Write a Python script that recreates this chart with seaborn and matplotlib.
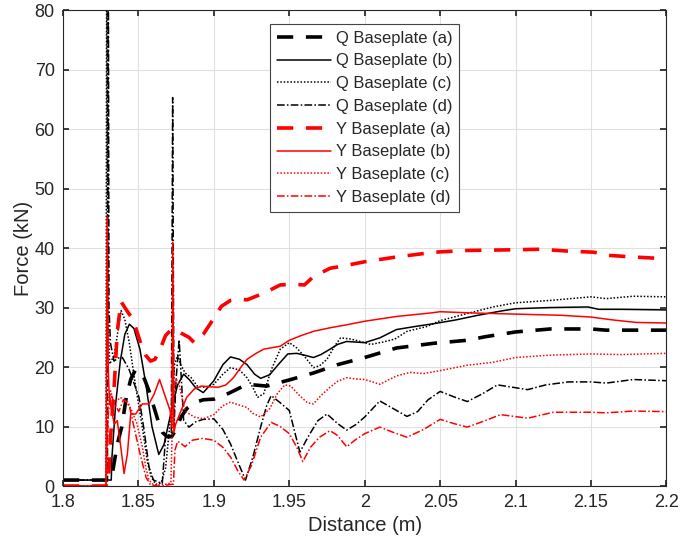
import pandas as pd
import seaborn as sns
import matplotlib.pyplot as plt

# --------------------------------------------------
# DATA
# --------------------------------------------------
qa_x = [1.800, 1.832, 1.834, 1.836, 1.839, 1.842, 1.845, 1.848, 1.851, 1.854,
        1.857, 1.860, 1.863, 1.866, 1.869, 1.872, 1.875, 1.878, 1.882, 1.887,
        1.893, 1.900, 1.910, 1.922, 1.935, 1.951, 1.966, 1.982, 2.000, 2.021,
        2.046, 2.068, 2.080, 2.100, 2.123, 2.150, 2.160, 2.200]
qa_y = [1.0, 1.0, 4, 7, 10, 15, 18, 19.5, 19.3, 18,
        16, 13.5, 11, 9, 8.3, 8.3, 9.5, 11.5, 13, 14,
        14.5, 14.6, 15.6, 17.1, 16.8, 17.9, 19.0, 20.4, 21.6, 23.2,
        24.0, 24.5, 25.1, 25.9, 26.4, 26.4, 26.2, 26.2]

qb_x = [1.800, 1.832, 1.8325, 1.835, 1.838, 1.841, 1.844, 1.847, 1.851, 1.855,
        1.859, 1.8635, 1.867, 1.870, 1.873, 1.876, 1.880, 1.884, 1.888, 1.893,
        1.900, 1.906, 1.911, 1.917, 1.922, 1.927, 1.931, 1.937, 1.943, 1.949,
        1.955, 1.960, 1.966, 1.971, 1.977, 1.982, 1.988, 1.994, 2.000, 2.010,
        2.021, 2.033, 2.046, 2.060, 2.075, 2.090, 2.100, 2.123, 2.148, 2.155,
        2.170, 2.200]
qb_y = [1.0, 1.0, 5, 14, 21, 25.5, 27.2, 26.5, 23, 17,
        10, 5.3, 7, 10.5, 14, 17, 18.8, 17.8, 16.5, 15.7,
        17.7, 20.4, 21.7, 21.3, 20.4, 18.8, 18.1, 18.7, 20.5, 22.2,
        22.3, 22.0, 21.6, 22.1, 23.0, 23.8, 24.3, 24.2, 24.1, 24.9,
        26.3, 26.8, 27.3, 27.9, 28.7, 29.4, 29.8, 30.0, 30.1, 29.7,
        29.7, 29.6]

qc_x = [1.800, 1.8285, 1.8290, 1.8296, 1.831, 1.834, 1.8385, 1.841, 1.844, 1.848,
        1.8525, 1.856, 1.8585, 1.8615, 1.865, 1.868, 1.8715, 1.874, 1.876, 1.878,
        1.881, 1.885, 1.889, 1.894, 1.900, 1.906, 1.911, 1.917, 1.922, 1.926,
        1.929, 1.933, 1.938, 1.944, 1.950, 1.955, 1.961, 1.966, 1.970, 1.975,
        1.980, 1.984, 1.991, 1.997, 2.004, 2.012, 2.020, 2.028, 2.041, 2.050,
        2.068, 2.085, 2.100, 2.123, 2.150, 2.160, 2.178, 2.200]
qc_y = [1.0, 1.0, 100, 30, 20.5, 22, 29.5, 28, 24, 17,
        10, 4, 1.5, 0.3, 0.5, 3, 12, 20.5, 22, 20.4,
        19, 18.2, 16.8, 16.6, 17.1, 18.8, 19.9, 19.5, 18.2, 16.5,
        14.9, 15.5, 19.5, 23, 24.1, 23.2, 21.5, 19.9, 20.2, 21.3,
        23.5, 24.9, 24.7, 24.3, 23.8, 24.2, 24.7, 26, 26.8, 27.8,
        29, 30.1, 30.8, 31.2, 31.8, 31.5, 31.9, 31.8]

qd_x = [1.800, 1.8295, 1.8300, 1.8305, 1.8315, 1.8338, 1.8365, 1.8394, 1.8438, 1.8475,
        1.8504, 1.854, 1.857, 1.860, 1.8658, 1.868, 1.8718, 1.8727, 1.8736, 1.875,
        1.877, 1.880, 1.8835, 1.888, 1.893, 1.900, 1.906, 1.911, 1.916, 1.921,
        1.926, 1.931, 1.935, 1.938, 1.944, 1.950, 1.957, 1.963, 1.969, 1.975,
        1.982, 1.988, 1.994, 2.000, 2.010, 2.019, 2.028, 2.035, 2.042, 2.050,
        2.059, 2.068, 2.078, 2.088, 2.098, 2.108, 2.120, 2.135, 2.150, 2.160,
        2.178, 2.200]
qd_y = [1.0, 1.0, 100, 30, 24, 21, 21.5, 21.6, 19.6, 17,
        14.9, 9, 3.2, 1.0, 0.4, 8.2, 8.5, 65.3, 10, 18,
        24.6, 11, 9.9, 10.8, 11.2, 11.3, 9.5, 7.1, 4, 1.0,
        5, 9.9, 13.5, 15.2, 14, 12.7, 5.7, 8.5, 11.0, 12.1,
        10.5, 9.4, 10.3, 11.6, 14.3, 13.0, 11.7, 12.5, 14.5, 15.9,
        15.0, 14.2, 15.5, 17.0, 16.6, 16.2, 17.0, 17.5, 17.5, 17.3,
        17.9, 17.7]

ya_x = [1.800, 1.830, 1.8315, 1.834, 1.836, 1.8385, 1.841, 1.845, 1.8482, 1.8515,
        1.8548, 1.858, 1.861, 1.8647, 1.868, 1.8714, 1.875, 1.879, 1.8835, 1.887,
        1.893, 1.900, 1.905, 1.911, 1.917, 1.922, 1.933, 1.944, 1.953, 1.960,
        1.966, 1.977, 1.988, 2.000, 2.021, 2.046, 2.068, 2.096, 2.116, 2.134,
        2.152, 2.160, 2.178, 2.200]
ya_y = [0, 0, 8, 17, 26, 31, 30, 28.5, 26.6, 24,
        22, 21, 21.3, 23.2, 25.3, 26.2, 26.3, 25.6, 25, 24.1,
        25.5, 28.2, 30.2, 31.2, 31.4, 31.3, 32.4, 33.8, 33.9, 33.8,
        35.2, 36.6, 37.1, 37.7, 38.5, 39.3, 39.6, 39.7, 39.8, 39.5,
        39.3, 38.8, 38.5, 38.2]

yb_x = [1.800, 1.8285, 1.8293, 1.8300, 1.8305, 1.832, 1.834, 1.836, 1.8383, 1.8405,
        1.8427, 1.8449, 1.8482, 1.8526, 1.857, 1.8605, 1.8640, 1.868, 1.871, 1.8722,
        1.8728, 1.8735, 1.8747, 1.878, 1.882, 1.887, 1.892, 1.896, 1.903, 1.908,
        1.913, 1.918, 1.922, 1.928, 1.933, 1.944, 1.950, 1.958, 1.966, 1.977,
        1.988, 2.000, 2.021, 2.044, 2.050, 2.070, 2.100, 2.130, 2.150, 2.165,
        2.180, 2.200]
yb_y = [0, 0, 45.3, 20, 16, 13, 10.4, 11, 6.6, 2.1,
        5.4, 12.1, 12.1, 13.8, 13.8, 15.5, 17.9, 14.9, 12.7, 10,
        41, 9, 10.4, 12.5, 14.9, 16.3, 16.8, 16.7, 16.6, 17.0,
        18.2, 20, 21.3, 22.3, 23, 23.5, 24.5, 25.3, 26.0, 26.6,
        27.1, 27.7, 28.5, 29.1, 29.3, 29.1, 28.9, 28.7, 28.4, 27.9,
        27.5, 27.4]

yc_x = [1.800, 1.8285, 1.830, 1.8316, 1.834, 1.838, 1.8416, 1.845, 1.849, 1.8526,
        1.855, 1.857, 1.860, 1.864, 1.868, 1.8715, 1.8730, 1.875, 1.877, 1.8795,
        1.8813, 1.887, 1.893, 1.900, 1.906, 1.911, 1.917, 1.922, 1.926, 1.931,
        1.937, 1.942, 1.947, 1.951, 1.956, 1.962, 1.966, 1.971, 1.977, 1.982,
        1.988, 1.994, 2.000, 2.010, 2.021, 2.030, 2.039, 2.050, 2.068, 2.085,
        2.100, 2.123, 2.150, 2.170, 2.200]
yc_y = [0, 0, 15, 16, 13.8, 14.9, 14.3, 13, 10.5, 6.6,
        3, 1, 0.2, 0.2, 0.3, 0.5, 15, 18, 17.1, 14,
        12.5, 11.6, 11.3, 12, 13.5, 14.1, 13.6, 13.2, 12.2, 11.6,
        13, 15.5, 17, 16.8, 15.4, 14, 13.8, 15.2, 16.6, 17.6,
        18.2, 18.0, 17.9, 17.1, 18.5, 19.1, 18.9, 19.4, 20.3, 20.8,
        21.6, 22.0, 22.2, 22.1, 22.3]

yd_x = [1.800, 1.8285, 1.830, 1.8315, 1.834, 1.837, 1.840, 1.8435, 1.847, 1.851,
        1.855, 1.858, 1.862, 1.866, 1.870, 1.8722, 1.8732, 1.8742, 1.876, 1.878,
        1.881, 1.8857, 1.8925, 1.900, 1.906, 1.911, 1.916, 1.920, 1.925, 1.931,
        1.938, 1.944, 1.950, 1.955, 1.959, 1.964, 1.970, 1.977, 1.982, 1.988,
        1.994, 2.000, 2.010, 2.019, 2.028, 2.039, 2.050, 2.059, 2.068, 2.080,
        2.090, 2.108, 2.125, 2.150, 2.160, 2.178, 2.200]
yd_y = [0, 0, 12, 15.5, 14, 12.5, 14.5, 14, 10, 5.5,
        1.5, 0.2, 0, 0, 0.2, 0.3, 0.3, 6, 7.5, 7.2,
        6.6, 7.7, 8.0, 7.7, 6.5, 4.9, 2.5, 1.0, 3.5, 8.2,
        10.7, 10, 8.8, 6.5, 4.1, 6.5, 8.2, 9.3, 8.5, 6.6,
        7.8, 8.8, 9.9, 9.0, 8.2, 9.5, 11.2, 10.5, 9.9, 11.0,
        12.0, 11.4, 12.4, 12.4, 12.3, 12.6, 12.5]

labels = ["Q Baseplate (a)", "Q Baseplate (b)", "Q Baseplate (c)", "Q Baseplate (d)",
          "Y Baseplate (a)", "Y Baseplate (b)", "Y Baseplate (c)", "Y Baseplate (d)"]
xs = [qa_x, qb_x, qc_x, qd_x, ya_x, yb_x, yc_x, yd_x]
ys = [qa_y, qb_y, qc_y, qd_y, ya_y, yb_y, yc_y, yd_y]

# --------------------------------------------------
# STYLE
# --------------------------------------------------
sns.set_theme(style="ticks")
plt.rcParams["font.family"] = ["Liberation Sans", "DejaVu Sans"]

dash_a = (0, (4.5, 3.5))
dash_c = (0, (1, 1.2))
dash_d = (0, (5, 1.5, 1, 1.5))
styles = [
    ("black", dash_a, 2.6), ("black", "-", 1.1), ("black", dash_c, 1.1), ("black", dash_d, 1.1),
    ("red", dash_a, 2.6), ("red", "-", 1.1), ("red", dash_c, 1.1), ("red", dash_d, 1.1),
]

fig = plt.figure(figsize=(6.8, 5.47), dpi=100)
ax = fig.add_axes([0.0926, 0.1115, 0.8875, 0.870])

for x, y, lab, (col, ls, lw) in zip(xs, ys, labels, styles):
    d = pd.DataFrame({"Distance": x, "Force": y})
    sns.lineplot(data=d, x="Distance", y="Force", ax=ax, color=col, linestyle=ls,
                 linewidth=lw, label=lab, sort=False, estimator=None)

ax.set_xlim(1.8, 2.2)
ax.set_ylim(0, 80)
ax.set_xticks([1.8, 1.85, 1.9, 1.95, 2.0, 2.05, 2.1, 2.15, 2.2])
ax.set_xticklabels(["1.8", "1.85", "1.9", "1.95", "2", "2.05", "2.1", "2.15", "2.2"])
ax.set_yticks(range(0, 81, 10))
ax.grid(True, color="#e0e0e0", linewidth=0.8)
ax.tick_params(direction="in", top=True, right=True, labelsize=13, length=4,
               color="#262626", pad=6)
for s in ax.spines.values():
    s.set_color("#262626")
    s.set_linewidth(0.8)

ax.set_xlabel("Distance (m)", fontsize=14.5, labelpad=3)
ax.set_ylabel("Force (kN)", fontsize=14.5, labelpad=1)

leg = ax.legend(loc="upper left", bbox_to_anchor=(0.343, 0.971), fontsize=11.9,
                handlelength=3.3, handletextpad=0.3, labelspacing=0.47,
                borderpad=0.4, borderaxespad=0, fancybox=False,
                edgecolor="#444444", framealpha=1)
leg.get_frame().set_linewidth(0.8)

plt.savefig("out.png", dpi=100)
